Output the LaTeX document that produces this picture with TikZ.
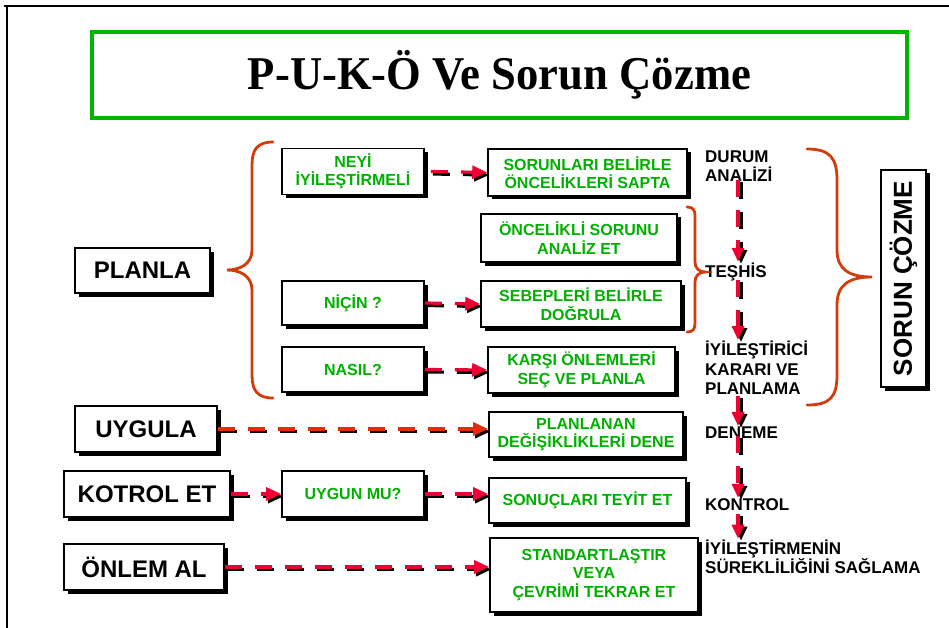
\documentclass[tikz,border=0pt]{standalone}
\usepackage{fontspec}
\setmainfont{Liberation Sans}
\newfontfamily\titlefont{Liberation Serif}
\usetikzlibrary{arrows.meta,shadows}
\definecolor{tgreen}{RGB}{0,176,0}
\definecolor{fgreen}{RGB}{0,180,0}
\definecolor{ared}{RGB}{240,0,50}
\definecolor{brc}{RGB}{210,60,10}
\definecolor{uarr}{RGB}{225,45,10}
\begin{document}
\begin{tikzpicture}[x=1pt,y=-1pt,
  box/.style={draw=black, line width=1.6pt, fill=white, align=center, inner sep=2pt,
    drop shadow={shadow xshift=3.5pt, shadow yshift=-3.5pt, fill=black, opacity=1}},
  gtext/.style={font=\bfseries\fontsize{16}{18.5}\selectfont, text=tgreen},
  btext/.style={font=\bfseries\fontsize{24}{28}\selectfont},
  lab/.style={font=\bfseries\fontsize{17}{19.5}\selectfont, anchor=west, align=left, inner sep=1pt},
  dar/.style={draw=#1, line width=3.2pt, dash pattern=on 17pt off 13pt,
    -{Triangle[length=15pt,width=13pt]},
    preaction={draw=black, line width=3.2pt, dash pattern=on 17pt off 13pt,
      -{Triangle[length=15pt,width=13pt]},
      transform canvas={shift={(2pt,-2.5pt)}}}},
  dar/.default=ared,
  vdar/.style={draw=ared, line width=3.2pt, dash pattern=on 17pt off 13pt,
    -{Triangle[length=14pt,width=12pt]},
    preaction={draw=black, line width=3.2pt, dash pattern=on 17pt off 13pt,
      -{Triangle[length=14pt,width=12pt]},
      transform canvas={shift={(3pt,-2pt)}}}},
  brace/.style={draw=brc, line width=2.8pt, line cap=round},
]
\useasboundingbox (0,0) rectangle (949,628);
% outer frame
\draw[line width=2pt] (4,6) -- (949,6);
\draw[line width=2pt] (7,6) -- (7,628);

% title
\node[draw=fgreen, line width=4pt, minimum width=815pt, minimum height=86pt, inner sep=0pt] (title) at (499.5,75)
  {\raisebox{-2pt}{\titlefont\bfseries\fontsize{47}{50}\selectfont\scalebox{0.95}[1]{P-U-K-Ö Ve Sorun Çözme}}};

% left column
\node[box, btext, minimum width=135pt, minimum height=45pt] (planla) at (142.5,270.5) {PLANLA};
\node[box, btext, minimum width=142pt, minimum height=46pt] (uygula) at (146,429) {UYGULA};
\node[box, btext, minimum width=166pt, minimum height=46pt] (kontrolet) at (147,494) {KOTROL ET};
\node[box, btext, minimum width=160pt, minimum height=46pt] (onlemal) at (144,567) {ÖNLEM AL};

% middle column
\node[box, gtext, minimum width=142pt, minimum height=46pt] (neyi) at (353,171.5) {NEYİ\\İYİLEŞTİRMELİ};
\node[box, gtext, minimum width=142pt, minimum height=44pt] (nicin) at (353,303) {NİÇİN ?};
\node[box, gtext, minimum width=142pt, minimum height=45pt] (nasil) at (353,369.5) {NASIL?};
\node[box, gtext, minimum width=142pt, minimum height=46pt] (uygunmu) at (353,494) {UYGUN MU?};

% right column of boxes
\node[box, gtext, minimum width=199pt, minimum height=47pt] (sorunlari) at (587.5,172.5) {SORUNLARI BELİRLE\\ÖNCELİKLERİ SAPTA};
\node[box, gtext, minimum width=196pt, minimum height=48pt] (oncelikli) at (579,238) {ÖNCELİKLİ SORUNU\\ANALİZ ET};
\node[box, gtext, minimum width=200pt, minimum height=46pt] (sebep) at (581,304) {SEBEPLERİ BELİRLE\\DOĞRULA};
\node[box, gtext, minimum width=187pt, minimum height=46pt] (karsi) at (581.5,370) {KARŞI ÖNLEMLERİ\\SEÇ VE PLANLA};
\node[box, gtext, minimum width=194pt, minimum height=45pt] (planlanan) at (586,434.5) {PLANLANAN\\DEĞİŞİKLİKLERİ DENE};
\node[box, gtext, minimum width=197pt, minimum height=45pt] (sonuclari) at (587.5,500.5) {SONUÇLARI TEYİT ET};
\node[box, gtext, minimum width=208pt, minimum height=74pt] (standart) at (594,575) {STANDARTLAŞTIR\\VEYA\\ÇEVRİMİ TEKRAR ET};

% labels
\node[lab] (durum) at (704,166) {DURUM\\ANALİZİ};
\node[lab] (teshis) at (704,272) {TEŞHİS};
\node[lab] (iyilestirici) at (704,368) {İYİLEŞTİRİCİ\\KARARI VE\\PLANLAMA};
\node[lab] (deneme) at (704,433) {DENEME};
\node[lab] (kontrol) at (704,505) {KONTROL};
\node[lab] (surekli) at (704,557) {İYİLEŞTİRMENİN\\SÜREKLİLİĞİNİ SAĞLAMA};

% SORUN COZME
\node[box, minimum width=45pt, minimum height=217pt] (scbox) at (903.5,278.5) {};
\node[rotate=90, font=\bfseries\fontsize{26}{30}\selectfont] (sctext) at (scbox) {SORUN ÇÖZME};

% horizontal arrows
\draw[dar] ([xshift=6pt]neyi.east) -- (sorunlari.west);
\draw[dar] (nicin.east) -- (sebep.west);
\draw[dar] (nasil.east) -- (karsi.west);
\draw[dar=uarr] (uygula.east) -- (planlanan.west |- uygula.east);
\draw[dar] (kontrolet.east) -- (uygunmu.west);
\draw[dar] (uygunmu.east) -- (sonuclari.west |- uygunmu.east);
\draw[dar] (onlemal.east) -- (standart.west |- onlemal.east);

% vertical arrows
\coordinate (ax) at (738,0);
\draw[vdar] ([yshift=3pt]durum.south -| ax) -- (teshis.north -| ax);
\draw[vdar] ([yshift=2pt]teshis.south -| ax) -- (iyilestirici.north -| ax);
\draw[vdar] (iyilestirici.south -| ax) -- (deneme.north -| ax);
\draw[vdar] ([yshift=4pt]deneme.south -| ax) -- (kontrol.north -| ax);
\draw[vdar] ([yshift=-2pt]kontrol.south -| ax) -- (surekli.north -| ax);

% braces
\draw[brace] (273,142) .. controls (257,142) and (252,150) .. (252,165) -- (252,250)
  .. controls (252,264) and (240,270) .. (227,270) .. controls (240,270) and (252,276) .. (252,290)
  -- (252,375) .. controls (252,390) and (257,398) .. (273,398);
\draw[brace] (687,207) .. controls (693,207) and (695,210) .. (695,216) -- (695,262)
  .. controls (695,268) and (699,272) .. (705,272) .. controls (699,272) and (695,276) .. (695,282)
  -- (695,323) .. controls (695,329) and (693,332) .. (687,332);
\draw[brace] (807,149) .. controls (830,149) and (837,158) .. (837,180) -- (837,250)
  .. controls (837,270) and (850,277) .. (872,277) .. controls (850,277) and (837,284) .. (837,305)
  -- (837,375) .. controls (837,397) and (830,405) .. (807,405);
\end{tikzpicture}
\end{document}
